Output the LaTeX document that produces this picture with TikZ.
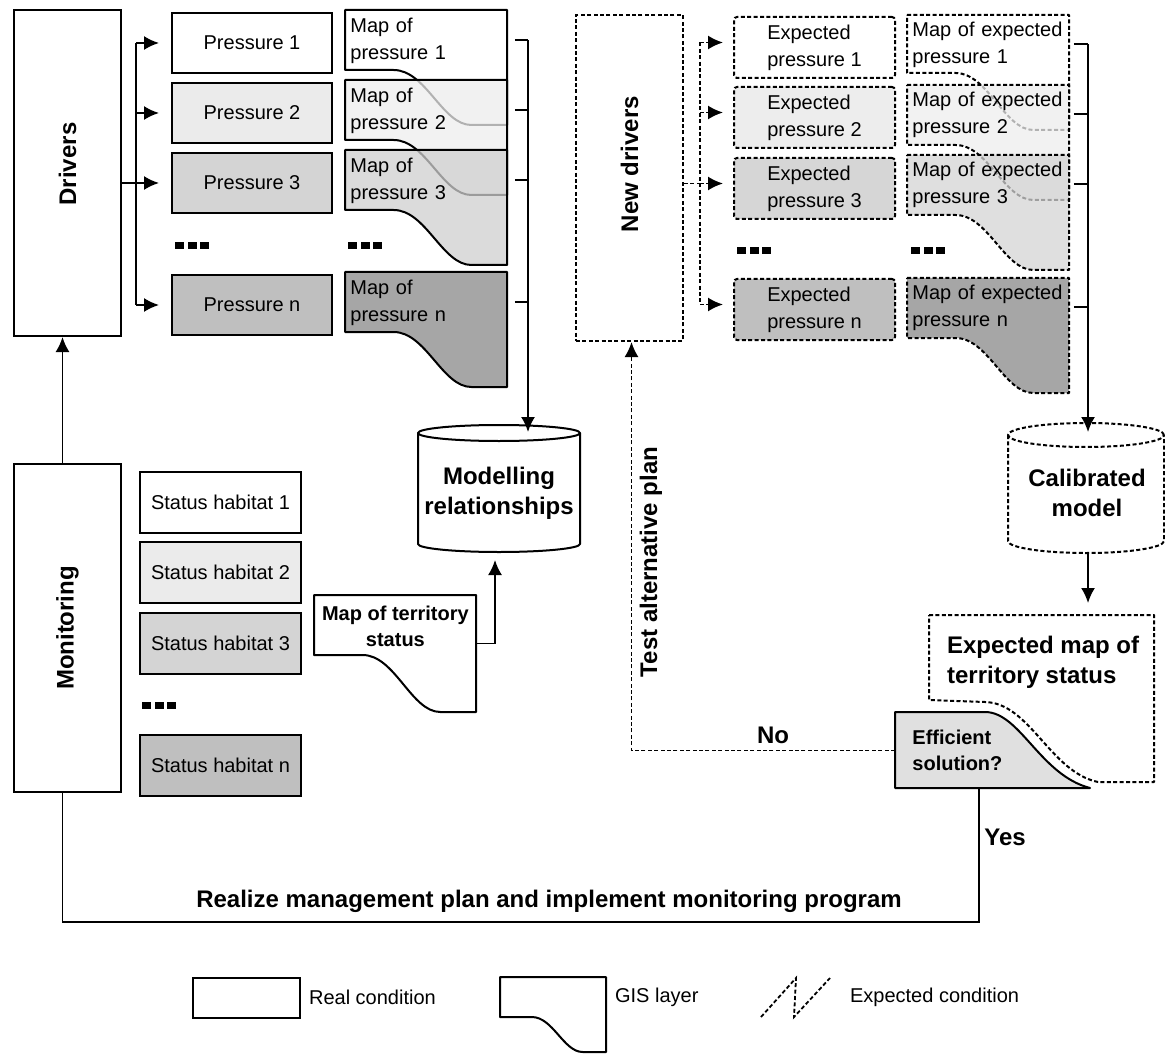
\documentclass[tikz,border=0pt]{standalone}
\usepackage{fontspec}
\setmainfont{Liberation Sans}
\usetikzlibrary{arrows.meta}

\tikzset{
  box/.style={draw, line width=1pt, anchor=north west, inner sep=0pt,
    minimum width=80.5pt, minimum height=30.5pt, font=\fontsize{10}{13.5}\selectfont},
  expct/.style={dash pattern=on 2pt off 1.2pt},
  maplbl/.style={anchor=north west, inner xsep=2.5pt, inner ysep=0pt,
    text width=76pt, align=left, font=\fontsize{10}{13.5}\selectfont},
  bigtxt/.style={font=\fontsize{12}{15}\selectfont\bfseries},
  midtxt/.style={font=\fontsize{10}{13}\selectfont\bfseries},
  legtxt/.style={anchor=west, font=\fontsize{10}{12}\selectfont},
  lnk/.style={line width=0.9pt},
  gis/.style={line width=1pt, line join=round},
}

% GIS layer outline: options, x, y, width, left height, right height
\newcommand{\gislayer}[6]{%
  \draw[gis, #1] (#2,#3) -- ({#2+#4},#3) -- ({#2+#4},{#3+#6})
    -- ({#2+0.78*#4},{#3+#6})
    .. controls ({#2+0.6*#4},{#3+#6}) and ({#2+0.5*#4},{#3+#5})
    .. ({#2+0.3*#4},{#3+#5}) -- (#2,{#3+#5}) -- cycle;}

\begin{document}
\begin{tikzpicture}[x=0.5pt, y=-0.5pt, >={Latex[length=7.5pt,width=7pt]}]
\useasboundingbox (0,0) rectangle (1165,1053);

% Drivers and pressures
\node[box, minimum width=53.5pt, minimum height=163pt] (drv) at (13,9) {};
\node[bigtxt, rotate=90] (drvt) at ([yshift=4.5pt]drv.center) {Drivers};
\foreach \i/\y/\c in {1/12/white, 2/82/black!8, 3/152/black!17, n/274/black!25}
  \node[box, fill=\c, minimum width=80pt, minimum height=30pt] (p\i) at (171,\y) {Pressure \i};
\coordinate (dbr) at (136,0);
\draw[lnk] (drv.east |- p3) -- (dbr |- p3);
\draw[lnk] (dbr |- p1) -- (dbr |- pn);
\foreach \i in {1,2,3,n}
  \draw[lnk, ->, shorten >=6pt] (dbr |- p\i) -- (p\i.west);

% Maps of pressure
\gislayer{fill=white}{345}{10}{162}{60}{115}
\gislayer{fill=black!7, fill opacity=0.75}{345}{80}{162}{60}{115}
\gislayer{fill=black!19, fill opacity=0.75}{345}{150}{162}{60}{115}
\gislayer{fill=black!35}{345}{272}{162}{60}{115}
\foreach \i/\y in {1/10, 2/80, 3/150, n/272}
  \node[maplbl, minimum height=30pt] (m\i) at (345,\y) {Map of\\pressure \i};

% dots
\foreach \x/\y in {175/242, 348/242, 142/702, 737/247, 911/247}
  \foreach \k in {0,1,2}
    \fill ({\x+12.5*\k},\y) rectangle ++(9,7);

% Modelling relationships
\coordinate (bk) at (528,0);
\foreach \i in {1,2,3,n}
  \draw[lnk] ([xshift=3.5pt]m\i.east) -- (bk |- m\i.east);
\draw[gis, fill=white] (418,433) -- (418,544) arc[start angle=180, end angle=360, x radius=40.5pt, y radius=4pt] -- (580,433);
\draw[gis, fill=white] (499,433) ellipse[x radius=40.5pt, y radius=4pt];
\node[bigtxt, align=center] (mod) at (499,493) {Modelling\\relationships};
\coordinate (modtop) at (528,432);
\coordinate (modbot) at (495,560);
\draw[lnk, ->] (bk |- m1.east) -- (modtop);

% Monitoring and status
\node[box, minimum width=53.5pt, minimum height=164pt] (mon) at (13,463) {};
\node[bigtxt, rotate=90] (mont) at (mon.center) {Monitoring};
\coordinate (monb) at ([xshift=-2.5pt]mon.south);
\draw[lnk, ->] ([xshift=-2.5pt]mon.north) -- ([xshift=-2.5pt]drv.south);
\foreach \i/\y/\c in {1/471/white, 2/541/black!8, 3/612/black!17, n/734/black!25}
  \node[box, fill=\c] (s\i) at (139,\y) {Status habitat \i};

\gislayer{fill=white}{314}{595}{162}{60}{117}
\node[midtxt, align=center, anchor=north west, minimum width=81pt, minimum height=31pt, inner sep=0pt] (terr) at (314,595) {Map of territory\\status};
\draw[lnk, ->] ([yshift=-8.5pt]terr.east) -| (modbot);

% New drivers and expected pressures
\node[box, expct, minimum width=53.5pt, minimum height=163pt] (nd) at (575,14) {};
\node[bigtxt, rotate=90] (ndt) at ([yshift=7pt]nd.center) {New drivers};
\foreach \i/\y/\c in {1/16/white, 2/86/black!7, 3/157/black!16, n/278/black!25}{
  \node[box, expct, rounded corners=1.5pt, fill=\c, align=left] (ep\i) at (733,\y) {Expected\\pressure \i};
  \coordinate (ea\i) at ([yshift=2.5pt]ep\i.west);
}
\coordinate (nbr) at (700,0);
\draw[lnk, expct] (nd.east |- ea3) -- (nbr |- ea3);
\draw[lnk, expct] (nbr |- ea1) -- (nbr |- ean);
\foreach \i in {1,2,3,n}
  \draw[lnk, expct, ->, shorten >=5pt] (nbr |- ea\i) -- (ea\i);

% Maps of expected pressure
\gislayer{expct, fill=white}{907}{15}{162}{58}{115}
\gislayer{expct, fill=black!7, fill opacity=0.75}{907}{85}{162}{60}{115}
\gislayer{expct, fill=black!17, fill opacity=0.75}{907}{155}{162}{60}{115}
\gislayer{expct, fill=black!35}{907}{278}{162}{60}{115}
\foreach \i/\y in {1/15, 2/85, 3/155, n/278}
  \node[maplbl, minimum height=29pt] (me\i) at (907,\y) {Map of expected\\pressure \i};

% Calibrated model
\coordinate (cbk) at (1088,0);
\foreach \i in {1,2,3,n}
  \draw[lnk] ([xshift=2pt]me\i.east) -- (cbk |- me\i.east);
\draw[gis, expct, fill=white] (1008,435) -- (1008,541) arc[start angle=180, end angle=360, x radius=39pt, y radius=6pt] -- (1164,435);
\draw[gis, expct, fill=white] (1086,435) ellipse[x radius=39pt, y radius=6pt];
\node[bigtxt, align=center] (cal) at (1087,493) {Calibrated\\model};
\coordinate (caltop) at (1088,432);
\coordinate (calbot) at (1088,553);
\coordinate (xtop) at (1088,603);
\draw[lnk, ->] (cbk |- me1.east) -- (caltop);
\draw[lnk, ->] (calbot) -- (xtop);

% Expected map of territory status and decision
\draw[gis, expct, fill=white] (929,615) -- (1154,615) -- (1154,782) -- (1098,782)
  .. controls (1050,772) and (1030,703) .. (985,702) -- (929,700) -- cycle;
\node[bigtxt, align=left, anchor=west] (xmap) at (940,662) {Expected map of\\territory status};
\draw[gis, fill=black!12] (895,712) -- (985,712) .. controls (1020,712) and (1040,775) .. (1090,788) -- (895,788) -- cycle;
\node[midtxt, anchor=north west, minimum width=97.5pt, minimum height=38pt, inner xsep=8.5pt, inner ysep=0pt, text width=80.5pt, align=left] (eff) at (895,712) {Efficient\\solution?};
\draw[lnk, expct, ->] (eff.west) -| ([xshift=1pt]nd.south);
\node[bigtxt] (lno) at (773,735) {No};
\node[bigtxt, rotate=90] (ltest) at (651,562) {Test alternative plan};

% Realize plan
\coordinate (bot) at (0,922);
\coordinate (effb) at ([xshift=-7pt]eff.south);
\draw[lnk] (effb) |- (monb |- bot) -- (monb);
\node[bigtxt] (lyes) at (1005,837) {Yes};
\node[bigtxt] (lreal) at (549,901) {Realize management plan and implement monitoring program};

% Legend
\node[box, minimum width=53.5pt, minimum height=20pt] (lg1) at (192,977) {};
\node[legtxt] (lg1t) at (302,997) {Real condition};
\gislayer{fill=white}{500}{977}{106}{40}{75}
\node[legtxt] (lg2t) at (608,997) {GIS layer};
\draw[lnk, expct] (761,1017) -- (796,978) -- (794,1017) -- (830,978);
\node[legtxt] (lg3t) at (843,997) {Expected condition};
\end{tikzpicture}
\end{document}
